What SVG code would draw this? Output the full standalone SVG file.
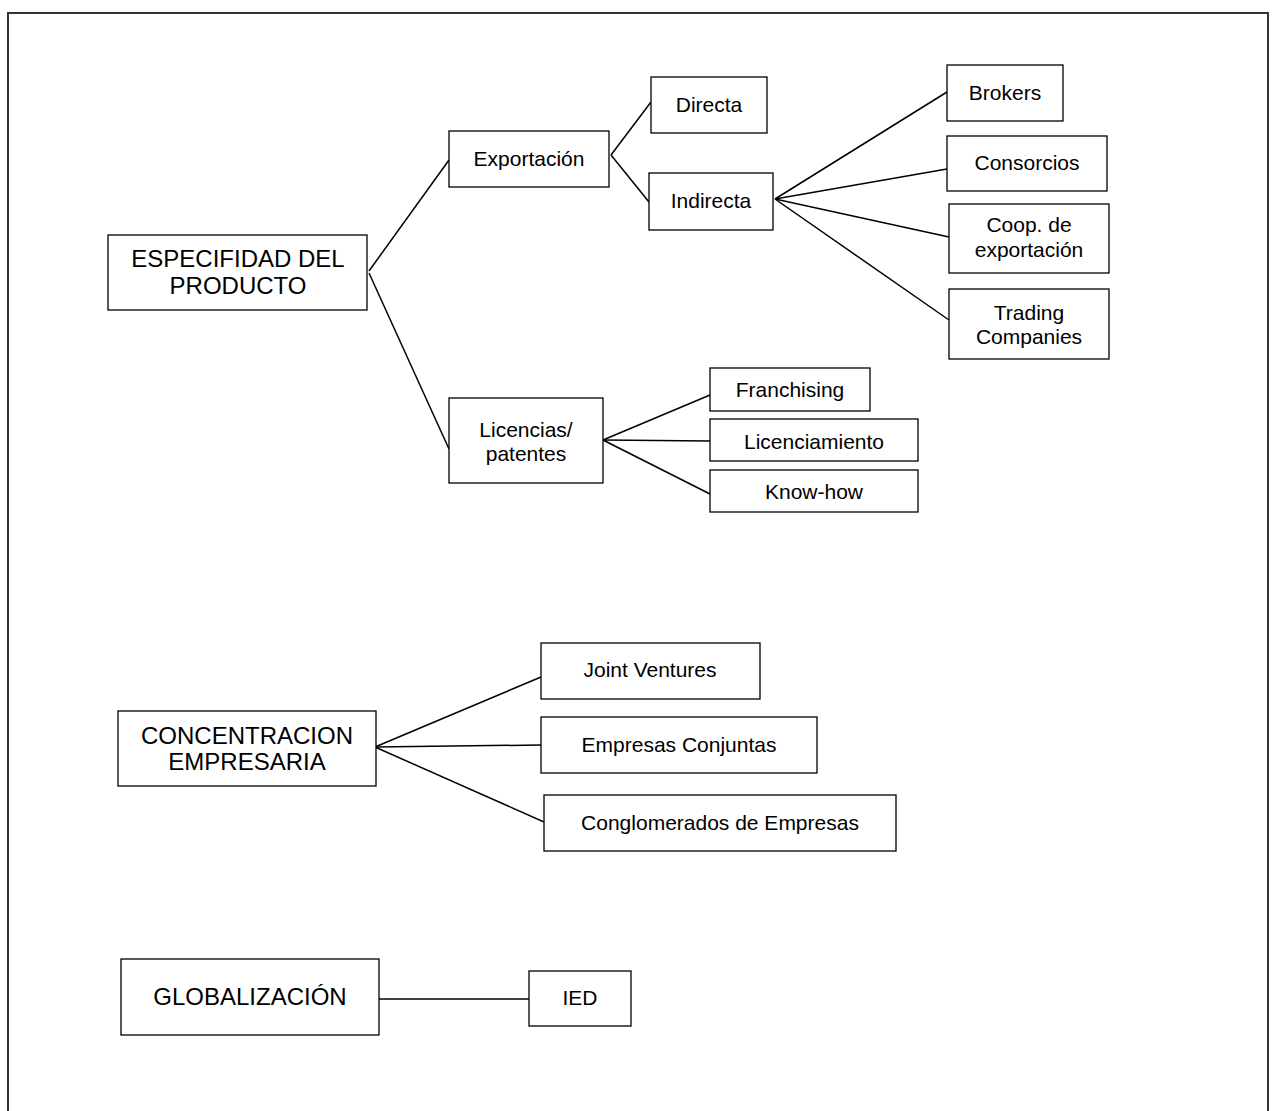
<svg xmlns="http://www.w3.org/2000/svg" width="1272" height="1111" viewBox="0 0 1272 1111">
<style>
.box{fill:#fff;stroke:#000;stroke-width:1.3}
.c line{stroke:#000;stroke-width:1.5}
text{font-family:"Liberation Sans",Arial,sans-serif;font-size:21px;fill:#000;text-anchor:middle}
.big{font-size:24px}
</style>
<rect x="0" y="0" width="1272" height="1111" fill="#fff"/>
<rect x="8" y="13" width="1260" height="1120" fill="none" stroke="#333" stroke-width="2"/>
<g class="c" id="connectors">
<line x1="369" y1="271" x2="449" y2="160"/>
<line x1="369" y1="273" x2="449" y2="449"/>
<line x1="611" y1="155" x2="651" y2="102"/>
<line x1="611" y1="155" x2="649" y2="202"/>
<line x1="775" y1="199" x2="947" y2="92"/>
<line x1="775" y1="199" x2="947" y2="169"/>
<line x1="775" y1="199" x2="949" y2="237"/>
<line x1="775" y1="199" x2="949" y2="320"/>
<line x1="603" y1="440" x2="710" y2="395"/>
<line x1="603" y1="440" x2="710" y2="441"/>
<line x1="603" y1="440" x2="710" y2="494"/>
<line x1="375" y1="747" x2="541" y2="677"/>
<line x1="375" y1="747" x2="541" y2="745"/>
<line x1="375" y1="747" x2="544" y2="822"/>
<line x1="379" y1="999" x2="529" y2="999"/>
</g>
<g id="especifidad"><rect class="box" x="108" y="235" width="259" height="75"/><text class="big" x="238" y="267">ESPECIFIDAD DEL</text><text class="big" x="238" y="294">PRODUCTO</text></g>
<g id="exportacion"><rect class="box" x="449" y="131" width="160" height="56"/><text x="529" y="166">Exportación</text></g>
<g id="directa"><rect class="box" x="651" y="77" width="116" height="56"/><text x="709" y="112">Directa</text></g>
<g id="indirecta"><rect class="box" x="649" y="173" width="124" height="57"/><text x="711" y="208">Indirecta</text></g>
<g id="brokers"><rect class="box" x="947" y="65" width="116" height="56"/><text x="1005" y="100">Brokers</text></g>
<g id="consorcios"><rect class="box" x="947" y="136" width="160" height="55"/><text x="1027" y="170">Consorcios</text></g>
<g id="coop"><rect class="box" x="949" y="204" width="160" height="69"/><text x="1029" y="232">Coop. de</text><text x="1029" y="257">exportación</text></g>
<g id="trading"><rect class="box" x="949" y="289" width="160" height="70"/><text x="1029" y="320">Trading</text><text x="1029" y="344">Companies</text></g>
<g id="licencias"><rect class="box" x="449" y="398" width="154" height="85"/><text x="526" y="437">Licencias/</text><text x="526" y="461">patentes</text></g>
<g id="franchising"><rect class="box" x="710" y="368" width="160" height="43"/><text x="790" y="397">Franchising</text></g>
<g id="licenciamiento"><rect class="box" x="710" y="419" width="208" height="42"/><text x="814" y="449">Licenciamiento</text></g>
<g id="knowhow"><rect class="box" x="710" y="470" width="208" height="42"/><text x="814" y="499">Know-how</text></g>
<g id="concentracion"><rect class="box" x="118" y="711" width="258" height="75"/><text class="big" x="247" y="744">CONCENTRACION</text><text class="big" x="247" y="770">EMPRESARIA</text></g>
<g id="joint"><rect class="box" x="541" y="643" width="219" height="56"/><text x="650" y="677">Joint Ventures</text></g>
<g id="empresas"><rect class="box" x="541" y="717" width="276" height="56"/><text x="679" y="752">Empresas Conjuntas</text></g>
<g id="conglomerados"><rect class="box" x="544" y="795" width="352" height="56"/><text x="720" y="830">Conglomerados de Empresas</text></g>
<g id="globalizacion"><rect class="box" x="121" y="959" width="258" height="76"/><text class="big" x="250" y="1005">GLOBALIZACIÓN</text></g>
<g id="ied"><rect class="box" x="529" y="971" width="102" height="55"/><text x="580" y="1005">IED</text></g>
</svg>
